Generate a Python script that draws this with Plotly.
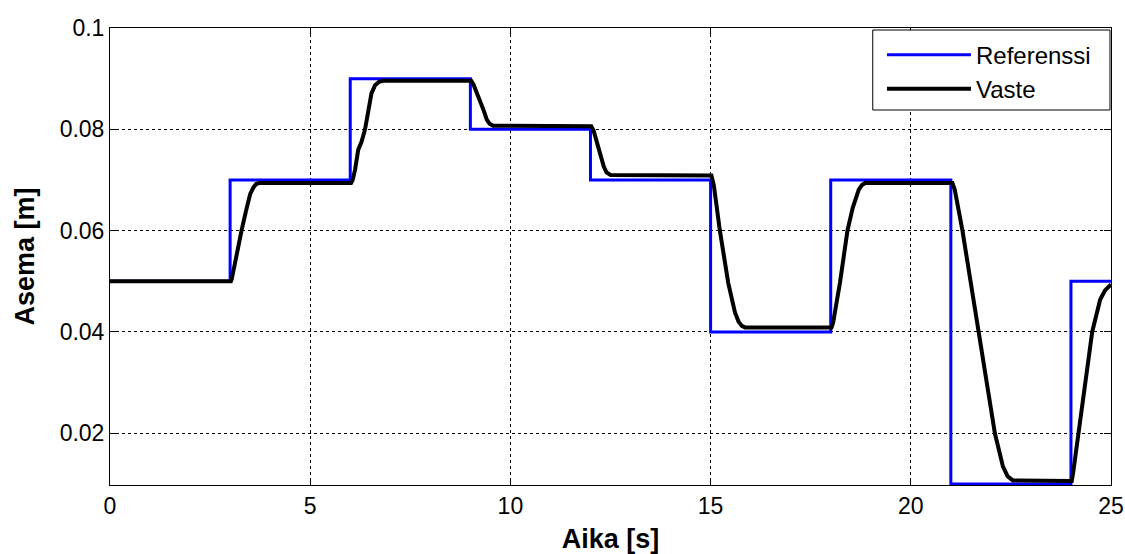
import plotly.graph_objects as go

# Reference (step) signal
ref_t = [0, 3, 6, 9, 12, 15, 18, 21, 24, 25]
ref_v = [0.05, 0.07, 0.09, 0.08, 0.07, 0.04, 0.07, 0.01, 0.05, 0.05]

# Response
resp_t = [0, 3.02, 3.04, 3.1, 3.2, 3.29, 3.4, 3.5, 3.58, 3.65, 3.72,
          6.02, 6.06, 6.12, 6.2, 6.28, 6.37, 6.45, 6.53, 6.62, 6.72, 6.82,
          9.02, 9.08, 9.16, 9.24, 9.33, 9.41, 9.48, 9.57,
          12.02, 12.08, 12.16, 12.25, 12.33, 12.4, 12.5,
          15.02, 15.08, 15.23, 15.44, 15.61, 15.7, 15.78, 15.86,
          18.02, 18.06, 18.23, 18.42, 18.55, 18.7, 18.78, 18.86,
          21.04, 21.1, 21.29, 21.7, 22.1, 22.3, 22.42, 22.55,
          24.02, 24.06, 24.19, 24.53, 24.73, 24.85, 25.0]
resp_v = [0.050, 0.050, 0.0504, 0.053, 0.057, 0.0602, 0.064, 0.0672, 0.0685, 0.0692, 0.0694,
          0.0694, 0.0700, 0.072, 0.076, 0.0775, 0.080, 0.0838, 0.0871, 0.0887, 0.0894, 0.0896,
          0.0896, 0.0888, 0.0873, 0.0858, 0.0838, 0.0819, 0.0811, 0.0807,
          0.0806, 0.0797, 0.0775, 0.0748, 0.0727, 0.0715, 0.0710,
          0.0709, 0.069, 0.0601, 0.0497, 0.0438, 0.042, 0.0412, 0.0409,
          0.0409, 0.0418, 0.0497, 0.0601, 0.0645, 0.0681, 0.0690, 0.0694,
          0.0694, 0.0680, 0.060, 0.040, 0.020, 0.0135, 0.0115, 0.0107,
          0.0106, 0.0125, 0.020, 0.040, 0.0464, 0.0482, 0.0494]

x_ticks = [0, 5, 10, 15, 20, 25]
y_ticks = [0.02, 0.04, 0.06, 0.08, 0.1]
y_labels = ["0.02", "0.04", "0.06", "0.08", "0.1"]

FONT = "Liberation Sans, Arial, sans-serif"

fig = go.Figure()
fig.add_trace(go.Scatter(x=ref_t, y=ref_v, mode="lines", name="Referenssi",
                         line=dict(color="#0000ff", width=3, shape="hv")))
fig.add_trace(go.Scatter(x=resp_t, y=resp_v, mode="lines", name="Vaste",
                         line=dict(color="#000000", width=4)))

axis_common = dict(showline=True, linecolor="black", linewidth=1, mirror="ticks",
                   ticks="inside", ticklen=7, tickcolor="black", automargin=False,
                   showgrid=True, gridcolor="black", griddash="dot", gridwidth=1,
                   zeroline=False, tickfont=dict(family=FONT, size=23, color="black"))

fig.update_xaxes(range=[0, 25], tickvals=x_ticks,
                 title=dict(text="<b>Aika [s]</b>", font=dict(family=FONT, size=27, color="black"), standoff=19),
                 **axis_common)
fig.update_yaxes(range=[0.0098, 0.1], tickvals=y_ticks, ticktext=y_labels,
                 title=dict(text="<b>Asema [m]</b>", font=dict(family=FONT, size=27, color="black"), standoff=17),
                 **axis_common)

# legend frame
fig.add_shape(type="rect", xref="paper", yref="paper",
              x0=0.762, x1=0.999, y0=0.8206, y1=0.9956,
              line=dict(color="black", width=1), fillcolor="white", layer="above")

fig.update_layout(
    width=1125, height=554,
    margin=dict(l=110, r=14, t=28, b=69),
    paper_bgcolor="white", plot_bgcolor="white",
    showlegend=True,
    legend=dict(x=0.7712, y=0.99, xanchor="left", yanchor="top",
                bgcolor="rgba(0,0,0,0)", borderwidth=0,
                font=dict(family=FONT, size=24, color="black"),
                itemwidth=84, tracegroupgap=0),
)

fig.write_html("out.html")
